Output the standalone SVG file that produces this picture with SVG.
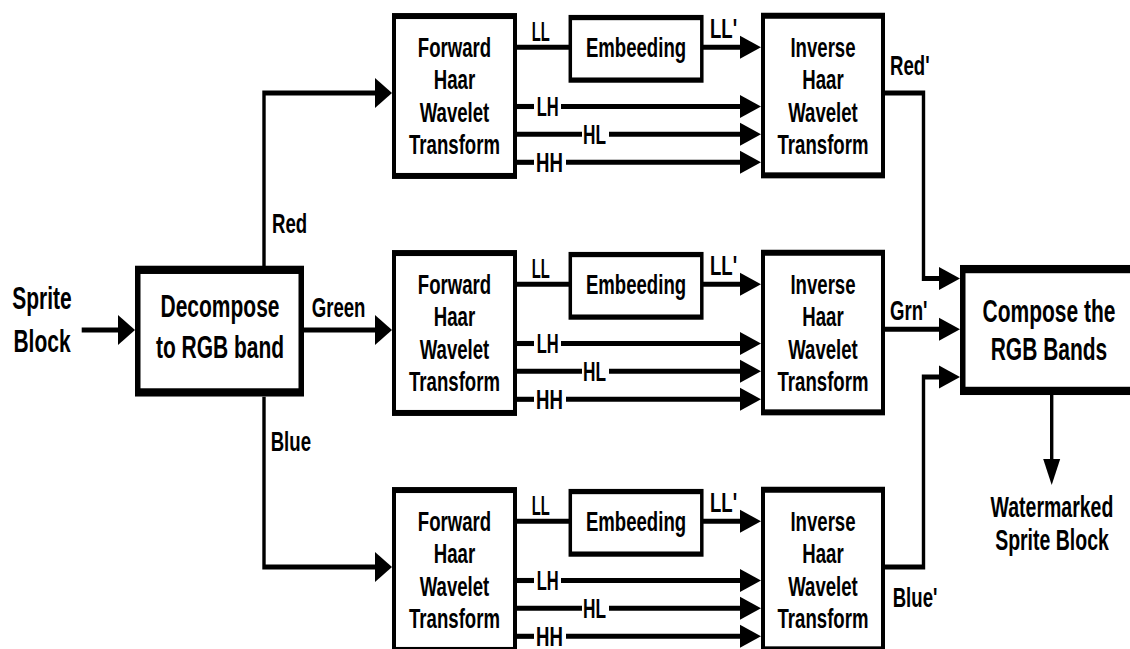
<svg xmlns="http://www.w3.org/2000/svg" width="1130" height="649" viewBox="0 0 1130 649">
<style>
  .bx{fill:#fff;stroke:#000;stroke-width:4}
  .em{fill:#fff;stroke:#000;stroke-width:3.5}
  .bg{fill:#fff;stroke:#000;stroke-width:5.5}
  .t{font-family:"Liberation Sans",Arial,sans-serif;font-weight:bold;font-size:18.6px;fill:#000}
  .tc{text-anchor:middle}
  .tb{font-size:21px}
  .ln{fill:none;stroke:#000;stroke-width:3.4}
  .lb{marker-end:url(#big)}
  .ls{marker-end:url(#small)}
</style>
<defs>
  <marker id="big" markerUnits="userSpaceOnUse" markerWidth="17" markerHeight="20" refX="0" refY="10" orient="auto" overflow="visible">
    <path d="M0,0 L17,10 L0,20 Z" fill="#000"/>
  </marker>
  <marker id="small" markerUnits="userSpaceOnUse" markerWidth="21" markerHeight="15.4" refX="0" refY="7.7" orient="auto" overflow="visible">
    <path d="M0,0 L21,7.7 L0,15.4 Z" fill="#000"/>
  </marker>
  <marker id="down" markerUnits="userSpaceOnUse" markerWidth="17.3" markerHeight="17" refX="0" refY="8.5" orient="auto" overflow="visible">
    <path d="M0,0 L17.3,8.5 L0,17 Z" fill="#000"/>
  </marker>
</defs>
<rect width="1130" height="649" fill="#fff"/>
<g transform="scale(1,1.5)">
  <g id="connectors">
    <path class="ln lb" d="M81.7,220 H118"/>
    <path class="ln lb" d="M304,220 H375"/>
    <path class="ln lb" d="M264,177.5 V62 H375"/>
    <path class="ln lb" d="M264,264.5 V378 H375"/>
    <g id="sub-row1">
      <path class="ln" d="M517,31.5 H570"/>
      <path class="ln ls" d="M702,31.5 H740"/>
      <path class="ln" d="M517,71 H534"/>
      <path class="ln ls" d="M561,71 H740"/>
      <path class="ln" d="M517,89.5 H582"/>
      <path class="ln ls" d="M609,89.5 H740"/>
      <path class="ln" d="M517,108.2 H534"/>
      <path class="ln ls" d="M566,108.2 H740"/>
    </g>
    <g id="sub-row2" transform="translate(0,158)">
      <path class="ln" d="M517,31.5 H570"/>
      <path class="ln ls" d="M702,31.5 H740"/>
      <path class="ln" d="M517,71 H534"/>
      <path class="ln ls" d="M561,71 H740"/>
      <path class="ln" d="M517,89.5 H582"/>
      <path class="ln ls" d="M609,89.5 H740"/>
      <path class="ln" d="M517,108.2 H534"/>
      <path class="ln ls" d="M566,108.2 H740"/>
    </g>
    <g id="sub-row3" transform="translate(0,316)">
      <path class="ln" d="M517,31.5 H570"/>
      <path class="ln ls" d="M702,31.5 H740"/>
      <path class="ln" d="M517,71 H534"/>
      <path class="ln ls" d="M561,71 H740"/>
      <path class="ln" d="M517,89.5 H582"/>
      <path class="ln ls" d="M609,89.5 H740"/>
      <path class="ln" d="M517,108.2 H534"/>
      <path class="ln ls" d="M566,108.2 H740"/>
    </g>
    <path class="ln ls" d="M883,62 H923.5 V185.7 H939"/>
    <path class="ln ls" d="M883,219.5 H939"/>
    <path class="ln ls" d="M883,378 H923.5 V251.3 H939"/>
    <path class="ln" style="marker-end:url(#down)" d="M1051.7,263.3 V306"/>
  </g>

  <g id="labels">
    <text class="t" x="272" y="155.5">Red</text>
    <text class="t" x="311.7" y="211.1">Green</text>
    <text class="t" x="270.7" y="300.5">Blue</text>
    <text class="t" x="890" y="50">Red'</text>
    <text class="t" x="890" y="213.3">Grn'</text>
    <text class="t" x="892.7" y="404.5">Blue'</text>
    <g id="lab-row1">
      <text class="t" x="531.7" y="27.1" textLength="18" lengthAdjust="spacingAndGlyphs">LL</text>
      <text class="t" x="710" y="25.5">LL'</text>
      <text class="t" x="536.7" y="77.2" textLength="22" lengthAdjust="spacingAndGlyphs">LH</text>
      <text class="t" x="583" y="95.7" textLength="23" lengthAdjust="spacingAndGlyphs">HL</text>
      <text class="t" x="536" y="114.4">HH</text>
    </g>
    <g id="lab-row2" transform="translate(0,158)">
      <text class="t" x="531.7" y="27.1" textLength="18" lengthAdjust="spacingAndGlyphs">LL</text>
      <text class="t" x="710" y="25.5">LL'</text>
      <text class="t" x="536.7" y="77.2" textLength="22" lengthAdjust="spacingAndGlyphs">LH</text>
      <text class="t" x="583" y="95.7" textLength="23" lengthAdjust="spacingAndGlyphs">HL</text>
      <text class="t" x="536" y="114.4">HH</text>
    </g>
    <g id="lab-row3" transform="translate(0,316)">
      <text class="t" x="531.7" y="27.1" textLength="18" lengthAdjust="spacingAndGlyphs">LL</text>
      <text class="t" x="710" y="25.5">LL'</text>
      <text class="t" x="536.7" y="77.2" textLength="22" lengthAdjust="spacingAndGlyphs">LH</text>
      <text class="t" x="583" y="95.7" textLength="23" lengthAdjust="spacingAndGlyphs">HL</text>
      <text class="t" x="536" y="114.4">HH</text>
    </g>
  </g>

  <g id="sprite-block">
    <text class="t tc tb" x="42" y="206">Sprite</text>
    <text class="t tc tb" x="42" y="234.5">Block</text>
  </g>

  <g id="decompose">
    <rect class="bg" x="137.75" y="179.9" width="163.5" height="81.7"/>
    <text class="t tc tb" x="220" y="211.1">Decompose</text>
    <text class="t tc tb" x="220" y="239">to RGB band</text>
  </g>

  <g id="forward-red">
    <rect class="bx" x="394" y="10.7" width="121" height="106.6"/>
    <text class="t tc" x="454.5" y="37.8">Forward</text>
    <text class="t tc" x="454.5" y="59.5">Haar</text>
    <text class="t tc" x="454.5" y="81.2">Wavelet</text>
    <text class="t tc" x="454.5" y="102.9">Transform</text>
  </g>
  <g id="forward-green" transform="translate(0,158)">
    <rect class="bx" x="394" y="10.7" width="121" height="106.6"/>
    <text class="t tc" x="454.5" y="37.8">Forward</text>
    <text class="t tc" x="454.5" y="59.5">Haar</text>
    <text class="t tc" x="454.5" y="81.2">Wavelet</text>
    <text class="t tc" x="454.5" y="102.9">Transform</text>
  </g>
  <g id="forward-blue" transform="translate(0,316)">
    <rect class="bx" x="394" y="10.7" width="121" height="106.6"/>
    <text class="t tc" x="454.5" y="37.8">Forward</text>
    <text class="t tc" x="454.5" y="59.5">Haar</text>
    <text class="t tc" x="454.5" y="81.2">Wavelet</text>
    <text class="t tc" x="454.5" y="102.9">Transform</text>
  </g>

  <g id="embed-red">
    <rect class="em" x="570.3" y="11.7" width="131.5" height="41.7"/>
    <text class="t tc" x="636" y="37.7">Embeeding</text>
  </g>
  <g id="embed-green" transform="translate(0,158)">
    <rect class="em" x="570.3" y="11.7" width="131.5" height="41.7"/>
    <text class="t tc" x="636" y="37.7">Embeeding</text>
  </g>
  <g id="embed-blue" transform="translate(0,316)">
    <rect class="em" x="570.3" y="11.7" width="131.5" height="41.7"/>
    <text class="t tc" x="636" y="37.7">Embeeding</text>
  </g>

  <g id="inverse-red">
    <rect class="bx" x="763" y="10.5" width="120" height="106.4"/>
    <text class="t tc" x="823" y="37.8">Inverse</text>
    <text class="t tc" x="823" y="59.5">Haar</text>
    <text class="t tc" x="823" y="81.2">Wavelet</text>
    <text class="t tc" x="823" y="102.9">Transform</text>
  </g>
  <g id="inverse-green" transform="translate(0,158)">
    <rect class="bx" x="763" y="10.5" width="120" height="106.4"/>
    <text class="t tc" x="823" y="37.8">Inverse</text>
    <text class="t tc" x="823" y="59.5">Haar</text>
    <text class="t tc" x="823" y="81.2">Wavelet</text>
    <text class="t tc" x="823" y="102.9">Transform</text>
  </g>
  <g id="inverse-blue" transform="translate(0,316)">
    <rect class="bx" x="763" y="10.5" width="120" height="106.4"/>
    <text class="t tc" x="823" y="37.8">Inverse</text>
    <text class="t tc" x="823" y="59.5">Haar</text>
    <text class="t tc" x="823" y="81.2">Wavelet</text>
    <text class="t tc" x="823" y="102.9">Transform</text>
  </g>

  <g id="compose">
    <rect class="bg" x="962.75" y="179.4" width="180" height="81.2"/>
    <text class="t tc tb" x="1049" y="214.5">Compose the</text>
    <text class="t tc tb" x="1049" y="240">RGB Bands</text>
  </g>

  <g id="watermarked">
    <text class="t tc" x="1052" y="344.5" style="font-size:19.5px">Watermarked</text>
    <text class="t tc" x="1052" y="366.7" style="font-size:19.5px">Sprite Block</text>
  </g>
</g>
</svg>
